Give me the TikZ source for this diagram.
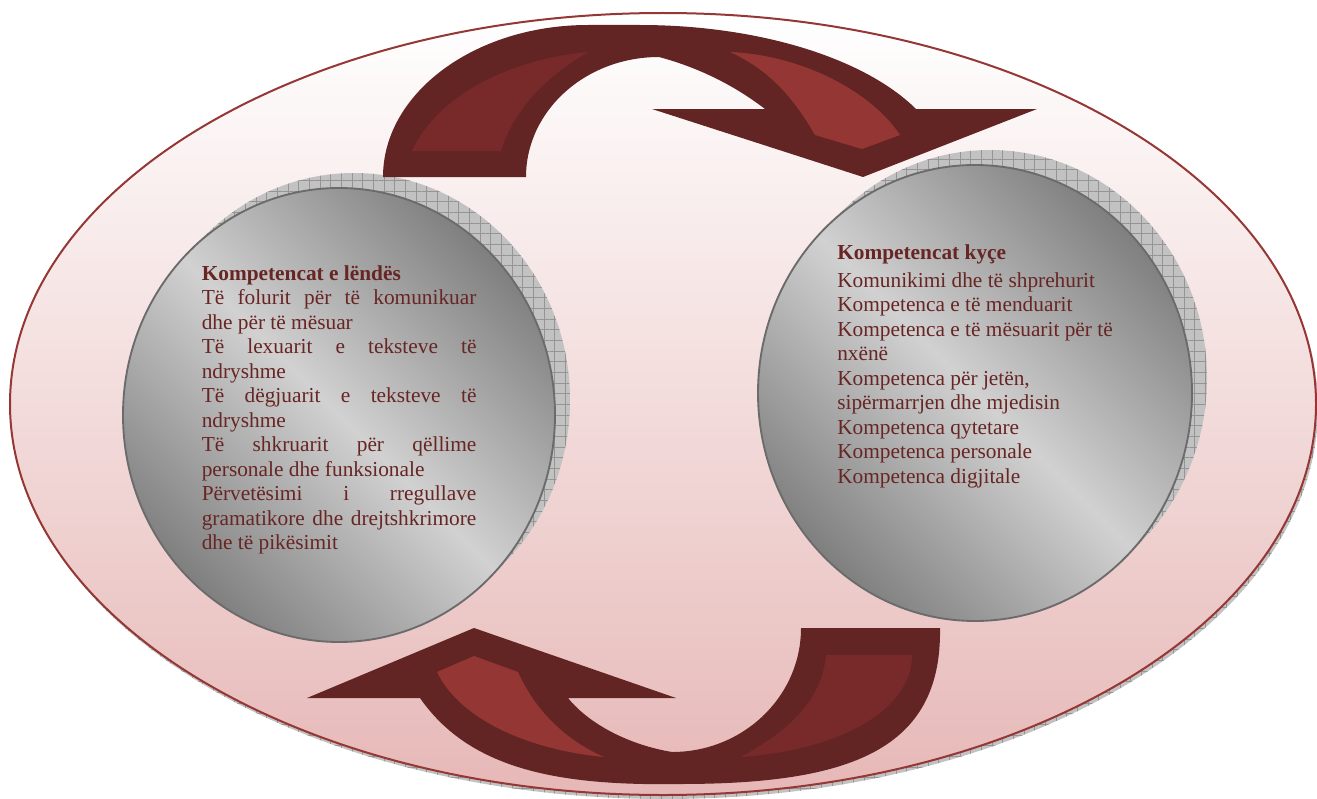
\documentclass[tikz,border=0pt]{standalone}
\usepackage{fontspec}
\setmainfont{Liberation Serif}
\usetikzlibrary{patterns.meta}
\definecolor{arrdark}{HTML}{632523}
\definecolor{arrmid}{HTML}{772A29}
\definecolor{arrlight}{HTML}{943634}
\definecolor{ringline}{HTML}{953735}
\definecolor{pinkbot}{HTML}{E6B8B7}
\definecolor{txtred}{HTML}{672524}
\tikzset{
  hatchshadow/.style={fill=black!24, postaction={pattern={Hatch[angle=0,distance=8pt,line width=0.35pt]}, pattern color=black!42}},
  outerring/.style={draw=ringline, line width=1.5pt, top color=white, bottom color=pinkbot},
  circ/.style={draw=black!58, line width=1.4pt, left color=black!50, right color=black!50, middle color=black!18, shading angle=-45},
  arrowbody/.style={fill=arrdark},
  blocktext/.style={anchor=base west, inner sep=0pt, text=txtred, font=\fontsize{16}{18.4}\selectfont}
}
\begin{document}
\begin{tikzpicture}[x=0.75pt,y=-0.75pt]
\useasboundingbox (0,0) rectangle (1317,799);
% outer ellipse with shadow
\path[hatchshadow] (665,408) ellipse [x radius=653, y radius=391];
\path[outerring] (663,404) ellipse [x radius=653, y radius=391];
% circle shadows
\path[hatchshadow] (354,400) ellipse [x radius=216, y radius=227];
\path[hatchshadow] (990,378) ellipse [x radius=217, y radius=228];
% circles
\path[circ] (339,415) ellipse [x radius=216, y radius=227];
\path[circ] (975,393) ellipse [x radius=217, y radius=228];
% texts
\node[blocktext] (lendes) at (201.5,280) {\parbox[t]{206pt}{%
\textbf{Kompetencat e lëndës}\\
\makebox[\linewidth][s]{Të folurit për të komunikuar}\\
dhe për të mësuar\\
\makebox[\linewidth][s]{Të lexuarit e teksteve të}\\
ndryshme\\
\makebox[\linewidth][s]{Të dëgjuarit e teksteve të}\\
ndryshme\\
\makebox[\linewidth][s]{Të shkruarit për qëllime}\\
personale dhe funksionale\\
\makebox[\linewidth][s]{Përvetësimi i rregullave}\\
\makebox[\linewidth][s]{gramatikore dhe drejtshkrimore}\\
dhe të pikësimit}};
\node[blocktext] (kyce) at (837,259) {\parbox[t]{240pt}{\raggedright
\textbf{Kompetencat kyçe}\\[2.6pt]
Komunikimi dhe të shprehurit\\
Kompetenca e të menduarit\\
Kompetenca e të mësuarit për të\\
nxënë\\
Kompetenca për jetën,\\
sipërmarrjen dhe mjedisin\\
Kompetenca qytetare\\
Kompetenca personale\\
Kompetenca digjitale}};
% top arrow
\path[arrowbody] (383,177) .. controls (383,93) and (475,25) .. (588,25)
  -- (640,25) .. controls (757,25) and (864,57.5) .. (916,109)
  -- (1037,109) -- (863,177) -- (652,109) -- (765,109)
  .. controls (735,86) and (700,68) .. (659,57)
  .. controls (585.5,57) and (526,110.7) .. (526,177) -- cycle;
\path[fill=arrmid] (412,151) -- (501,151) .. controls (512,115) and (540,80) .. (588,52)
  .. controls (520,58) and (440,90) .. (412,151) -- cycle;
\path[fill=arrlight] (730,52) .. controls (800,55) and (870,90) .. (900,135)
  -- (862,149) -- (815,135) .. controls (795,100) and (770,70) .. (730,52) -- cycle;
% bottom arrow
\path[arrowbody] (420,698) -- (307,698) -- (474,628) -- (676,698) -- (568,698)
  .. controls (590,725) and (630,745) .. (672,752)
  .. controls (743.2,752) and (801,696.5) .. (801,628)
  -- (940,628) .. controls (942,750) and (850,784) .. (680,784)
  .. controls (560,786) and (470,770) .. (420,698) -- cycle;
\path[fill=arrlight] (437,672) -- (474,656) -- (518,672) .. controls (535,710) and (565,740) .. (604,757)
  .. controls (530,750) and (460,720) .. (437,672) -- cycle;
\path[fill=arrmid] (826,655) -- (912,655) .. controls (912,710) and (840,750) .. (741,757)
  .. controls (790,730) and (822,700) .. (826,655) -- cycle;
\end{tikzpicture}
\end{document}
